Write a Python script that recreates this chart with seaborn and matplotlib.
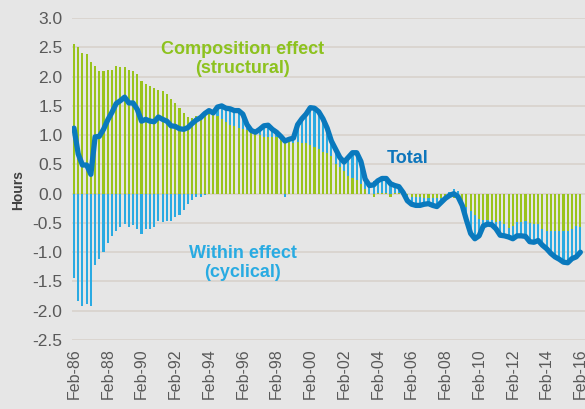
import numpy as np
import pandas as pd
import matplotlib
matplotlib.use("Agg")
import matplotlib.pyplot as plt
import seaborn as sns

# quarterly decomposition, Feb-86 .. Feb-16 (hours)
tick_labels = ["Feb-86", "Feb-88", "Feb-90", "Feb-92", "Feb-94", "Feb-96", "Feb-98", "Feb-00",
               "Feb-02", "Feb-04", "Feb-06", "Feb-08", "Feb-10", "Feb-12", "Feb-14", "Feb-16"]

composition = [2.56, 2.51, 2.41, 2.38, 2.25, 2.18, 2.09, 2.09, 2.11, 2.12,
               2.18, 2.16, 2.16, 2.12, 2.09, 2.05, 1.93, 1.87, 1.84, 1.80,
               1.77, 1.75, 1.70, 1.62, 1.55, 1.47, 1.38, 1.31, 1.30, 1.32,
               1.35, 1.40, 1.42, 1.38, 1.33, 1.27, 1.22, 1.17, 1.15, 1.13,
               1.11, 1.08, 1.05, 1.02, 1.00, 0.97, 0.97, 0.97, 0.97, 0.93,
               0.96, 0.88, 0.87, 0.88, 0.87, 0.86, 0.84, 0.80, 0.76, 0.72,
               0.70, 0.65, 0.51, 0.45, 0.39, 0.31, 0.27, 0.23, 0.17, 0.08,
               0.00, -0.06, 0.02, 0.02, 0.02, -0.05, 0.02, 0.02, 0.01, -0.03,
               -0.05, -0.06, -0.06, -0.07, -0.07, -0.07, -0.08, -0.07, -0.06, -0.06,
               -0.08, -0.10, -0.14, -0.22, -0.30, -0.37, -0.43, -0.45, -0.45, -0.45,
               -0.48, -0.46, -0.51, -0.58, -0.55, -0.48, -0.48, -0.46, -0.50, -0.51,
               -0.52, -0.61, -0.64, -0.64, -0.64, -0.63, -0.64, -0.64, -0.61, -0.55,
               -0.57]

within = [-1.44, -1.83, -1.92, -1.89, -1.92, -1.21, -1.11, -0.99, -0.85, -0.73,
          -0.64, -0.57, -0.51, -0.57, -0.54, -0.61, -0.69, -0.60, -0.60, -0.57,
          -0.46, -0.48, -0.46, -0.46, -0.40, -0.36, -0.28, -0.18, -0.10, -0.06,
          -0.05, -0.03, 0.00, 0.00, 0.15, 0.23, 0.24, 0.28, 0.27, 0.29,
          0.25, 0.10, 0.03, 0.03, 0.10, 0.19, 0.20, 0.13, 0.08, 0.05,
          -0.06, 0.05, 0.08, 0.30, 0.41, 0.50, 0.63, 0.66, 0.64, 0.56,
          0.42, 0.25, 0.25, 0.17, 0.15, 0.31, 0.43, 0.47, 0.38, 0.17,
          0.14, 0.21, 0.20, 0.24, 0.24, 0.22, 0.12, 0.10, 0.01, -0.09,
          -0.13, -0.14, -0.14, -0.11, -0.10, -0.13, -0.14, -0.08, -0.02, 0.03,
          0.08, 0.05, -0.06, -0.23, -0.38, -0.40, -0.29, -0.10, -0.07, -0.08,
          -0.12, -0.25, -0.21, -0.16, -0.22, -0.24, -0.24, -0.27, -0.32, -0.32,
          -0.28, -0.27, -0.30, -0.38, -0.44, -0.49, -0.53, -0.54, -0.50, -0.53,
          -0.43]

green = "#99c31c"
blue = "#2aaae2"
navy = "#0a79bd"
bg = "#e6e6e6"

df = pd.DataFrame({"quarter": np.arange(len(composition)),
                   "composition": composition,
                   "within": within})
df["total"] = df["composition"] + df["within"]
# within bars stack on the composition bar when both have the same sign
same_sign = np.sign(df["within"]) == np.sign(df["composition"])
df["base"] = np.where(same_sign, df["composition"], 0.0)

sns.set_style("whitegrid", {"axes.facecolor": bg, "grid.color": "#dad5d0",
                            "axes.edgecolor": bg})
plt.rcParams["font.family"] = ["Liberation Sans", "DejaVu Sans"]

fig, ax = plt.subplots(figsize=(5.85, 4.09), dpi=100)
fig.patch.set_facecolor(bg)
ax.set_position([0.1236, 0.1687, 0.8764, 0.787])

sns.barplot(data=df, x="quarter", y="composition", native_scale=True, color=green,
            saturation=1, width=0.5, errorbar=None, linewidth=0, ax=ax, zorder=2)
ax.bar(df["quarter"], df["within"], bottom=df["base"], width=0.5, color=blue,
       linewidth=0, zorder=2)
sns.lineplot(data=df, x="quarter", y="total", color=navy, lw=3.8, ax=ax,
             zorder=3, legend=False, solid_capstyle="round")

ax.set_xlim(-0.4, 121.1)
ax.set_ylim(-2.5, 3.0)
ax.set_yticks(np.arange(-2.5, 3.01, 0.5))
ax.set_yticklabels([f"{v:.1f}" for v in np.arange(-2.5, 3.01, 0.5)])
ax.set_xticks(np.arange(0, 121, 8))
ax.set_xticklabels(tick_labels, rotation=90)
ax.grid(axis="x", visible=False)
ax.grid(axis="y", lw=1.4)
ax.set_axisbelow(True)
for s in ax.spines.values():
    s.set_visible(False)
ax.tick_params(axis="y", length=0, pad=7, labelsize=12.5, labelcolor="#595959")
ax.tick_params(axis="x", length=0, pad=6, labelsize=11.5, labelcolor="#595959")
ax.set_xlabel("")
ax.set_ylabel("")

fig.text(18 / 585, 1 - 190 / 409, "Hours", rotation=90, ha="center", va="center",
         fontsize=10, fontweight="bold", color="#404040")
ax.text(40, 2.30, "Composition effect\n(structural)", ha="center", va="center",
        fontsize=13, fontweight="bold", color="#8dc21f", linespacing=1.15)
ax.text(40, -1.18, "Within effect\n(cyclical)", ha="center", va="center",
        fontsize=13, fontweight="bold", color="#29abe2", linespacing=1.15)
ax.text(79, 0.60, "Total", ha="center", va="center",
        fontsize=13, fontweight="bold", color="#0e76bc")

fig.savefig("out.png", dpi=100, facecolor=bg)
